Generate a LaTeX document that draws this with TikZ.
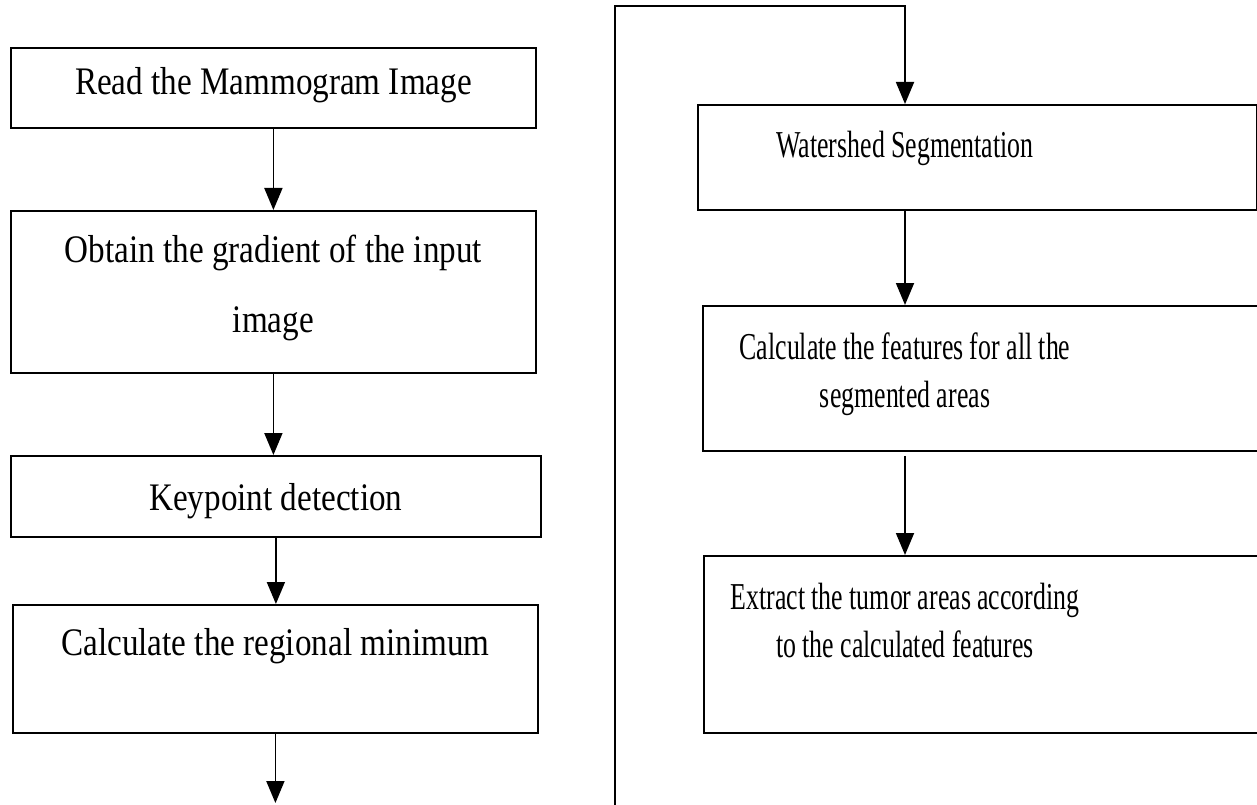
\documentclass[tikz,border=0pt]{standalone}
\usepackage{fontspec}
\setmainfont{Liberation Serif}
\usetikzlibrary{arrows.meta,positioning}

\begin{document}
\begin{tikzpicture}[
  x=1pt, y=-1pt,
  stage/.style = {draw, line width=1.8pt, inner sep=0pt, anchor=north west},
  lbl/.style = {anchor=base, align=center, inner sep=0pt, transform shape},
  big/.style = {font=\fontsize{39}{70}\selectfont, xscale=0.85},
  small/.style = {font=\fontsize{38}{47.5}\selectfont, xscale=0.68},
  arr/.style = {-{Triangle[length=22pt, width=18pt]}, line width=1.8pt},
]
\useasboundingbox (0,0) rectangle (1257,805);

% left column
\node[stage, minimum width=525pt, minimum height=80pt] (read) at (10,47) {};
\node[stage, minimum width=525pt, minimum height=162pt] (grad) at (10,210) {};
\node[stage, minimum width=530pt, minimum height=81pt] (keypt) at (10,455) {};
\node[stage, minimum width=525pt, minimum height=128pt] (regmin) at (12,604) {};

% right column
\coordinate (spine) at (905,0);
\node[stage, minimum width=559pt, minimum height=105pt] (wshed) at (697,104) {};
\node[stage, minimum width=560pt, minimum height=145pt] (feats) at (702,305) {};
\node[stage, minimum width=560pt, minimum height=177pt] (extract) at (703,555) {};

% connectors
\coordinate (out) at (277,803);
\coordinate (loopin) at (615,805);
\coordinate (loopturn) at (615,6);
\draw[arr] (read.south) -- (grad.north);
\draw[arr] (grad.south) -- (grad.south |- keypt.north);
\draw[arr] (keypt.south) -- (keypt.south |- regmin.north);
\draw[arr] (regmin.south) -- (regmin.south |- out);
\draw[arr] (loopin) -- (loopturn) -| (spine |- wshed.north);
\draw[arr] (spine |- wshed.south) -- (spine |- feats.north);
\draw[arr] ([yshift=-4pt]spine |- feats.south) -- (spine |- extract.north);

% labels sit on the baseline of their last line
\node[lbl, big] (read-t) at ([yshift=-48pt]read.north) {Read the Mammogram Image};
\node[lbl, big] (grad-t) at ([yshift=-122pt]grad.north) {Obtain the gradient of the input\\image};
\node[lbl, big] (keypt-t) at ([yshift=-55pt]keypt.north) {Keypoint detection};
\node[lbl, big] (regmin-t) at ([yshift=-51pt]regmin.north) {Calculate the regional minimum};
\node[lbl, small] (wshed-t) at ([yshift=-54pt]spine |- wshed.north) {Watershed Segmentation};
\node[lbl, small] (feats-t) at ([yshift=-102pt]spine |- feats.north) {Calculate the features for all the\\segmented areas};
\node[lbl, small] (extract-t) at ([yshift=-102pt]spine |- extract.north) {Extract the tumor areas according\\to the calculated features};
\end{tikzpicture}
\end{document}
